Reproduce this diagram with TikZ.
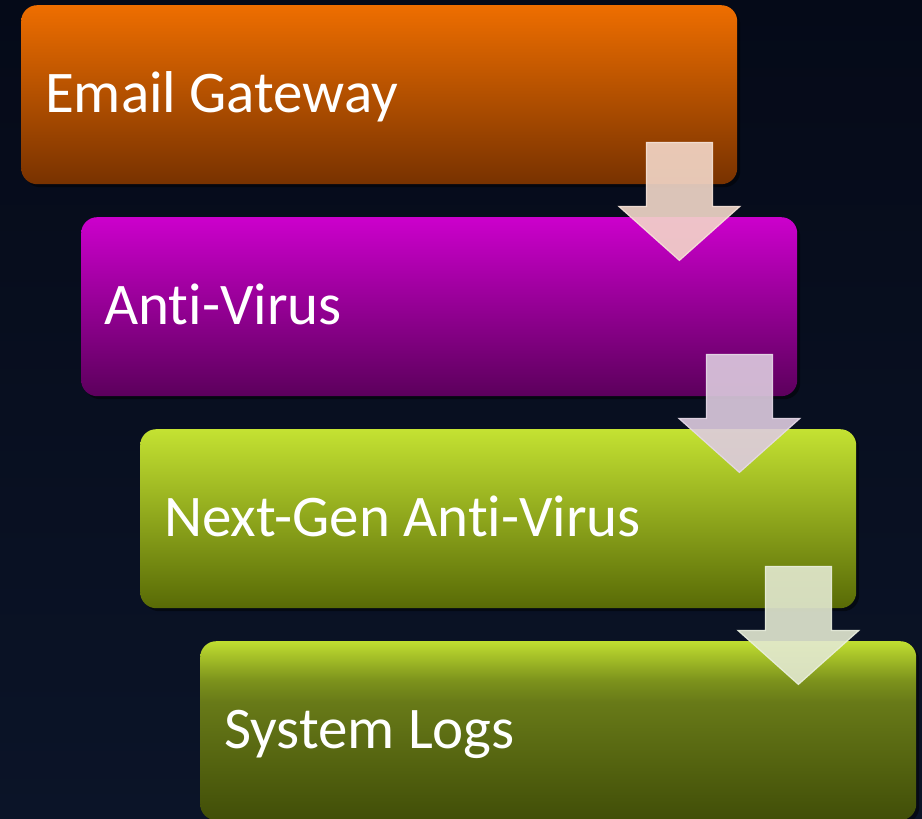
\documentclass[tikz,border=0pt]{standalone}
\usepackage{fontspec}
\setmainfont[Ligatures=NoCommon]{Carlito}
\usetikzlibrary{calc,shadows}
\definecolor{bgtop}{HTML}{050A18}
\definecolor{bgbot}{HTML}{0B1428}
\definecolor{oTop}{HTML}{EE6E00}
\definecolor{oBot}{HTML}{783200}
\definecolor{mTop}{HTML}{CC00CC}
\definecolor{mBot}{HTML}{5C005C}
\definecolor{gTop}{HTML}{C4E232}
\definecolor{gBot}{HTML}{586A06}
\definecolor{hTop}{HTML}{C0DE30}
\definecolor{hMidA}{HTML}{7C921C}
\definecolor{hMidB}{HTML}{687A18}
\definecolor{hBot}{HTML}{414E08}
\definecolor{aPeach}{HTML}{F3D8C9}
\definecolor{aLav}{HTML}{DDCBDF}
\definecolor{aSage}{HTML}{E3E9D1}
\pgfdeclareverticalshading{boxfour}{100bp}{color(0bp)=(hBot); color(25bp)=(hBot); color(58bp)=(hMidB); color(64bp)=(hMidA); color(75bp)=(hTop); color(100bp)=(hTop)}
\tikzset{
  stagebox/.style={rounded corners=16pt, minimum width=716pt, minimum height=179pt,
    anchor=north west, inner sep=0pt, draw=none,
    drop shadow={opacity=0.45, shadow xshift=3pt, shadow yshift=-3pt, fill=black}},
  stagetext/.style={anchor=base west, text=white, inner sep=0pt,
    font=\fontsize{59}{70}\selectfont},
  flowarrow/.style={line width=1.2pt, fill opacity=0.9, draw opacity=0.9},
}
\newcommand\blockarrow[3]{%
  \draw[flowarrow, fill=#2, draw=#3]
    ($(#1)+(-33,0)$) -- ($(#1)+(33,0)$) -- ($(#1)+(33,64)$) -- ($(#1)+(60.5,64)$)
    -- ($(#1)+(0,118)$) -- ($(#1)+(-60.5,64)$) -- ($(#1)+(-33,64)$) -- cycle;}
\begin{document}
\begin{tikzpicture}[x=1pt,y=-1pt]
\useasboundingbox (0,0) rectangle (922,819);
\shade[top color=bgtop, bottom color=bgbot] (0,0) rectangle (922,819);

\node[stagebox, top color=oTop, bottom color=oBot] (b1) at (21,5) {};
\node[stagebox, top color=mTop, bottom color=mBot] (b2) at (81,217) {};
\node[stagebox, top color=gTop, bottom color=gBot] (b3) at (140,429) {};
\node[stagebox, shading=boxfour] (b4) at (200,641) {};

\node[stagetext] (t1) at ($(b1.west)+(24,17.5)$) {Email Gateway};
\node[stagetext] (t2) at ($(b2.west)+(23,17.5)$) {Anti-Virus};
\node[stagetext] (t3) at ($(b3.west)+(24,17.5)$) {Next-Gen Anti-Virus};
\node[stagetext] (t4) at ($(b4.west)+(24,17.5)$) {System Logs};

\coordinate (a1) at ($(b1.south east)+(-58,-42)$);
\coordinate (a2) at ($(b2.south east)+(-58,-42)$);
\coordinate (a3) at ($(b3.south east)+(-58,-42)$);
\blockarrow{a1}{aPeach}{aPeach!70!white}
\blockarrow{a2}{aLav}{aLav!70!white}
\blockarrow{a3}{aSage}{aSage!70!white}
\end{tikzpicture}
\end{document}
